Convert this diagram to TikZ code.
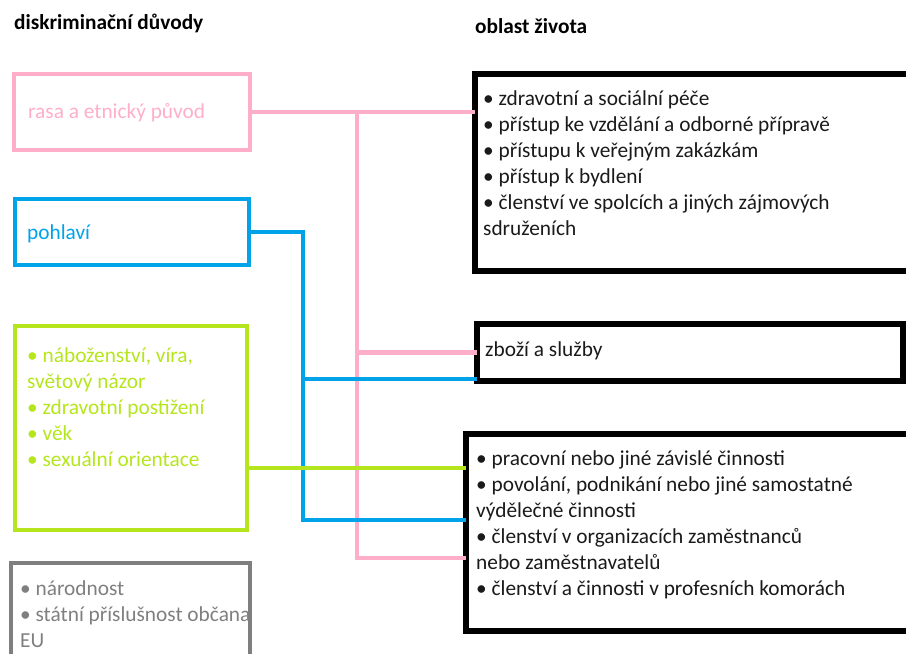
\documentclass[tikz,border=0pt]{standalone}
\usepackage{fontspec}
\setmainfont{Carlito}
\usetikzlibrary{positioning}
\definecolor{ruzova}{HTML}{FFAEC9}
\definecolor{modra}{HTML}{00A2E8}
\definecolor{zelena}{HTML}{B5E61D}
\definecolor{seda}{HTML}{7F7F7F}
\definecolor{cerna}{HTML}{1A1A1A}

\begin{document}
\begin{tikzpicture}[x=1pt, y=-1pt,
  txt/.style={font=\fontsize{21.33}{26}\selectfont, inner sep=0pt,
    anchor=base west, align=left},
  hdr/.style={txt, font=\fontsize{21.33}{26}\selectfont\bfseries},
  dbox/.style={draw, rectangle, line width=4.7pt, anchor=north west,
    inner sep=0pt, outer sep=0pt},
  obox/.style={draw=black, rectangle, line width=5.5pt, anchor=north west,
    inner sep=0pt, outer sep=0pt},
  spoj/.style={line width=4.8pt},
]
\useasboundingbox (0,0) rectangle (906,654);

%==================== NADPISY ====================
\node[hdr] (hduv) at (14,29) {diskriminační důvody};
\node[hdr] (hobl) at (475,33) {oblast života};

%==================== RAMECKY (pozice) ====================
\node[dbox, draw=ruzova, minimum width=236pt, minimum height=76pt] (rasa) at (14,74) {};
\node[dbox, draw=modra, minimum width=234pt, minimum height=66pt] (pohl) at (15,199) {};
\node[dbox, draw=zelena, minimum width=232pt, minimum height=204pt] (nab) at (15,326) {};
\node[obox, minimum width=445pt, minimum height=197pt] (zivot) at (475,74) {};
\node[obox, minimum width=426pt, minimum height=57pt] (sluzby) at (477,324) {};
\node[obox, minimum width=454pt, minimum height=197pt] (prace) at (466,434) {};

%==================== SPOJNICE ====================
% rasa a etnicky puvod -> vsechny tri oblasti
\coordinate (pk1) at (357,112);
\coordinate (pk2) at (357,558);
\draw[spoj, ruzova] (rasa.east) -- (zivot.west |- rasa.east);
\draw[spoj, ruzova] (pk1) -- (pk2) -- (prace.west |- pk2);
\draw[spoj, ruzova] (pk1 |- sluzby.west) -- (sluzby.west);

% pohlavi -> zbozi a sluzby, prace
\coordinate (mk1) at (303,232);
\coordinate (mk2) at (303,520);
\coordinate (mk3) at (303,379);
\draw[spoj, modra] (pohl.east) -- (mk1) -- (mk2) -- (prace.west |- mk2);
\draw[spoj, modra] (mk3) -- (sluzby.west |- mk3);

% nabozenstvi atd. -> prace
\coordinate (zk) at (247,468);
\draw[spoj, zelena] (zk) -- (prace.west |- zk);

%==================== TEXTY ====================
% u viceradkovych textu je base = posledni radek
\node[txt, text=seda] (narod-t) at (20,647)
  {• národnost\\• státní příslušnost občana\\EU};
\node[dbox, draw=seda, minimum width=239pt, minimum height=137pt] (narod) at (11,563) {};

\node[txt, text=ruzova] (rasa-t) at (28,118) {rasa a etnický původ};
\node[txt, text=modra] (pohl-t) at (27,239) {pohlaví};
\node[txt, text=zelena] (nab-t) at (27,466)
  {• náboženství, víra,\\světový názor\\• zdravotní postižení\\• věk\\• sexuální orientace};

\node[txt, text=cerna] (zivot-t) at (483,235)
  {• zdravotní a sociální péče\\• přístup ke vzdělání a odborné přípravě\\%
   • přístupu k veřejným zakázkám\\• přístup k bydlení\\%
   • členství ve spolcích a jiných zájmových\\sdruženích};
\node[txt, text=cerna] (sluzby-t) at (485,356) {zboží a služby};
\node[txt, text=cerna] (prace-t) at (476,595)
  {• pracovní nebo jiné závislé činnosti\\• povolání, podnikání nebo jiné samostatné\\%
   výdělečné činnosti\\• členství v organizacích zaměstnanců\\%
   nebo zaměstnavatelů\\• členství a činnosti v profesních komorách};

\end{tikzpicture}
\end{document}
